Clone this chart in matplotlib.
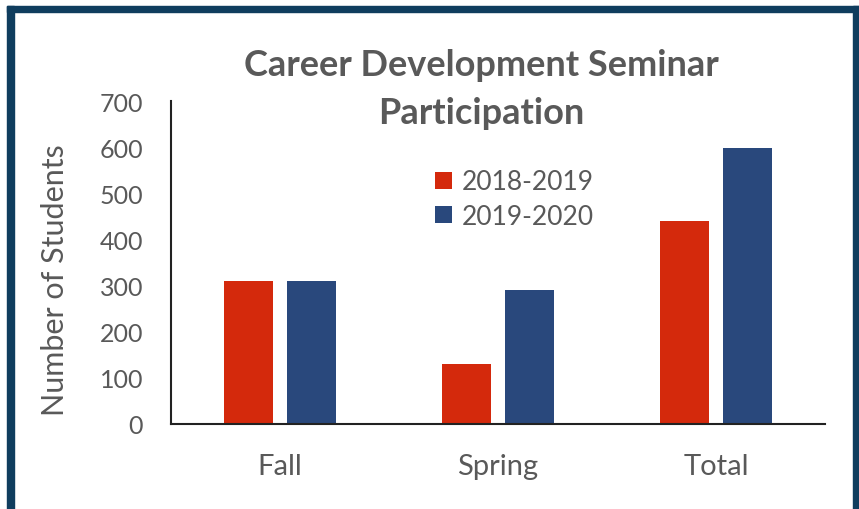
import matplotlib
matplotlib.use('Agg')
import matplotlib.pyplot as plt
import numpy as np
from matplotlib.patches import Rectangle

#  ----------------- data
#
categories = ['Fall', 'Spring', 'Total']
series_names = ['2018-2019', '2019-2020']
values_1819 = [310, 130, 440]
values_1920 = [310, 290, 598]
y_ticks = [0, 100, 200, 300, 400, 500, 600, 700]

red = '#D4290C'
blue = '#29487C'
gray = '#595959'
frame = '#0F3D5E'

plt.rcParams['font.family'] = ['Lato', 'DejaVu Sans']

fig = plt.figure(figsize=(8.59, 5.10), dpi=100)
ax = fig.add_axes([171 / 859, 85 / 510, 654 / 859, 323 / 510])

x = np.arange(len(categories))
w = 0.225
off = 0.1445
ax.bar(x - off, values_1819, w, color=red, label=series_names[0])
ax.bar(x + off, values_1920, w, color=blue, label=series_names[1])

ax.set_xlim(-0.5, 2.5)
ax.set_ylim(0, 700)
ax.set_yticks(y_ticks)
ax.set_xticks(x)
ax.set_xticklabels(categories)
ax.tick_params(axis='both', length=0, labelcolor=gray)
ax.tick_params(axis='x', labelsize=21, pad=21)
ax.tick_params(axis='y', labelsize=18, pad=20)
for s in ['top', 'right']:
    ax.spines[s].set_visible(False)
for s in ['left', 'bottom']:
    ax.spines[s].set_color('#222222')
    ax.spines[s].set_linewidth(1.5)

fig.text(55 / 859, 1 - 280 / 510, 'Number of Students', rotation=90, ha='center', va='center',
         fontsize=22, color=gray)

leg = ax.legend(loc='upper left', bbox_to_anchor=(0.404, 0.788), frameon=False,
                fontsize=19, handlelength=0.65, handleheight=0.6,
                handletextpad=0.35, labelspacing=0.36, borderaxespad=0, borderpad=0)
for t in leg.get_texts():
    t.set_color(gray)

fig.text(0.5605, 1 - 66 / 510, 'Career Development Seminar', ha='center', va='center',
         fontsize=26, fontweight='bold', color=gray)
fig.text(0.5605, 1 - 113 / 510, 'Participation', ha='center', va='center',
         fontsize=26, fontweight='bold', color=gray)

# dark frame round the picture (no bottom edge)
fig.patches.append(Rectangle((7 / 859, 0), 7 / 859, 1 - 7 / 510, transform=fig.transFigure,
                             color=frame, zorder=10))
fig.patches.append(Rectangle((853 / 859, 0), 6 / 859, 1 - 7 / 510, transform=fig.transFigure,
                             color=frame, zorder=10))
fig.patches.append(Rectangle((7 / 859, 1 - 13 / 510), 852 / 859, 6 / 510, transform=fig.transFigure,
                             color=frame, zorder=10))

fig.savefig('out.png', dpi=100)
